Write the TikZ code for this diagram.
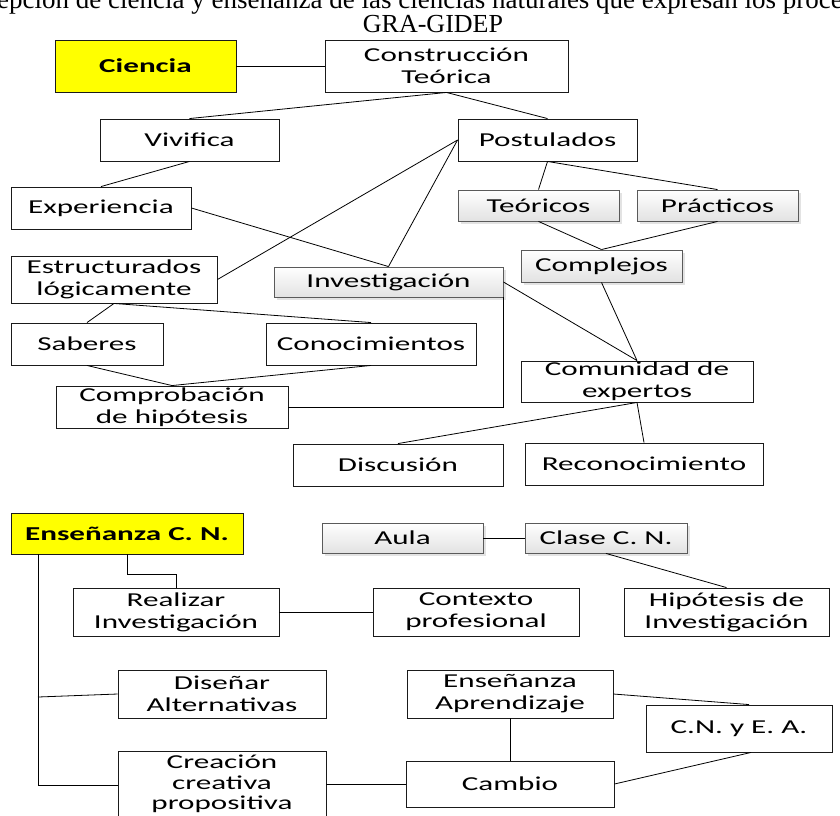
\documentclass[tikz,border=0pt]{standalone}
\usepackage{fontspec}
\usepackage{tikz}
\usetikzlibrary{shadows}
\newfontfamily\cajafont{Carlito}[FakeStretch=1.58]
\newfontfamily\titulofont{Liberation Serif}
\definecolor{GGAmarillo}{HTML}{FFFF00}
\definecolor{GGBorde}{HTML}{1A1A1A}
\definecolor{GGGris}{HTML}{5A5A5A}
\definecolor{GGSombra}{HTML}{C8C8C8}
\definecolor{GGDegrade}{HTML}{E2E2E2}
\tikzset{
  enlace/.style={draw=black,line width=0.8pt},
  caja/.style={draw=GGBorde,line width=0.9pt,fill=white,inner sep=0pt,align=center,
               font=\cajafont\fontsize{19.7}{22}\selectfont},
  cajaclave/.style={caja,fill=GGAmarillo,font=\cajafont\bfseries\fontsize{19.7}{22}\selectfont},
  cajagris/.style={caja,draw=GGGris,top color=white,bottom color=GGDegrade,
                   drop shadow={shadow xshift=3pt,shadow yshift=-3pt,fill=GGSombra}},
  titulo/.style={font=\titulofont\fontsize{26}{30}\selectfont,inner sep=0pt},
}

\begin{document}
\begin{tikzpicture}[x=1pt,y=-1pt]
    \path[use as bounding box,fill=white] (0,0) rectangle (840,815);
    \node[titulo,font=\titulofont\fontsize{27}{30}\selectfont,anchor=base west] (lema) at (-3,8)
      {epción de ciencia y enseñanza de las ciencias naturales que expresan los proce};
    \node[titulo] (sigla) at (433,24) {GRA-GIDEP};

    \node[cajaclave,minimum width=181pt,minimum height=52pt] (cien) at (145.5,66) {Ciencia};
    \node[caja,minimum width=243pt,minimum height=52pt] (const) at (446.5,66) {Construcción\\Teórica};
    \node[caja,minimum width=179pt,minimum height=42pt] (viv) at (189.5,140) {Vivifica};
    \node[caja,minimum width=179pt,minimum height=42pt] (postu) at (547.5,140) {Postulados};
    \node[caja,minimum width=180pt,minimum height=42pt] (exper) at (101,208) {Experiencia};
    \node[cajagris,minimum width=161pt,minimum height=31pt] (teor) at (538.5,205.5) {Teóricos};
    \node[cajagris,minimum width=161pt,minimum height=31pt] (pract) at (717.5,205.5) {Prácticos};
    \node[caja,minimum width=206pt,minimum height=47pt] (estr) at (114,279.5) {Estructurados\\lógicamente};
    \node[cajagris,minimum width=229pt,minimum height=30pt] (inves) at (388.5,282) {Investigación};
    \node[cajagris,minimum width=161pt,minimum height=32pt] (compl) at (601.5,266) {Complejos};
    \node[caja,minimum width=152pt,minimum height=42pt] (saber) at (87,344) {Saberes};
    \node[caja,minimum width=210pt,minimum height=42pt] (conoc) at (371,344) {Conocimientos};
    \node[caja,minimum width=232pt,minimum height=42pt] (compr) at (172,407) {Comprobación\\de hipótesis};
    \node[caja,minimum width=232pt,minimum height=41pt] (comun) at (637,381.5) {Comunidad de\\expertos};
    \node[caja,minimum width=210pt,minimum height=42pt] (discu) at (398,465) {Discusión};
    \node[caja,minimum width=238pt,minimum height=42pt] (recon) at (644,464) {Reconocimiento};

    \draw[enlace] (cien)--(const);
    \draw[enlace] (const.south)--(viv.north);
    \draw[enlace] (const.south)--(postu.north);
    \draw[enlace] (viv.south)--(exper.north);
    \draw[enlace] (exper.east)--(inves.north);
    \draw[enlace] (estr.east)--(postu.west);
    \draw[enlace] (inves.north)--(postu.west);
    \draw[enlace] (postu.south)--(teor.north);
    \draw[enlace] (postu.south)--(pract.north);
    \draw[enlace] (teor.south)--(compl.north);
    \draw[enlace] (pract.south)--(compl.north);
    \draw[enlace] (inves.east)--(comun.north);
    \draw[enlace] (compl.south)--(comun.north);
    \draw[enlace] (estr.south)--(saber.north);
    \draw[enlace] (estr.south)--(conoc.north);
    \draw[enlace] (saber.south)--(compr.north);
    \draw[enlace] (conoc.south)--(compr.north);
    \draw[enlace] (compr.east)-|(inves.south east);
    \draw[enlace] (comun.south)--(discu.north);
    \draw[enlace] (comun.south)--(recon.north);

    \node[cajaclave,minimum width=232pt,minimum height=41pt] (ensen) at (127,533.5) {Enseñanza C. N.};
    \node[cajagris,minimum width=161pt,minimum height=30pt] (aula) at (402.5,538) {Aula};
    \node[cajagris,minimum width=162pt,minimum height=30pt] (clase) at (606,538) {Clase C. N.};
    \node[caja,minimum width=206pt,minimum height=48pt] (reali) at (176,612) {Realizar\\Investigación};
    \node[caja,minimum width=206pt,minimum height=48pt] (conte) at (476,612) {Contexto\\profesional};
    \node[caja,minimum width=205pt,minimum height=48pt] (hipot) at (726.5,612) {Hipótesis de\\Investigación};
    \node[caja,minimum width=208pt,minimum height=48pt] (disen) at (222,694) {Diseñar\\Alternativas};
    \node[caja,minimum width=206pt,minimum height=48pt] (ensap) at (510,694) {Enseñanza\\Aprendizaje};
    \node[caja,minimum width=186pt,minimum height=47pt] (cneea) at (739,728.5) {C.N. y E. A.};
    \node[caja,minimum width=208pt,minimum height=66pt,font=\cajafont\fontsize{19.7}{20.5}\selectfont] (ecrea) at (222,784)
      {Creación\\creativa\\propositiva};
    \node[caja,minimum width=208pt,minimum height=46pt] (cambio) at (510,784) {Cambio};
    \coordinate (rama) at (38,697);
    \coordinate (tronco) at (38,785);

    \draw[enlace] (ensen.south)--++(0,20)-|(reali.north);
    \draw[enlace] (ensen.south -| tronco)--(tronco)--(ecrea.west |- tronco);
    \draw[enlace] (rama)--(disen.west);
    \draw[enlace] (reali)--(conte);
    \draw[enlace] (aula)--(clase);
    \draw[enlace] (clase.south)--(hipot.north);
    \draw[enlace] (ensap)--(cambio);
    \draw[enlace] (ecrea.east |- cambio)--(cambio.west);
    \draw[enlace] (ensap.east)--([xshift=10pt]cneea.north);
    \draw[enlace] (cambio.east)--([xshift=12pt]cneea.south);
  \end{tikzpicture}
\end{document}
